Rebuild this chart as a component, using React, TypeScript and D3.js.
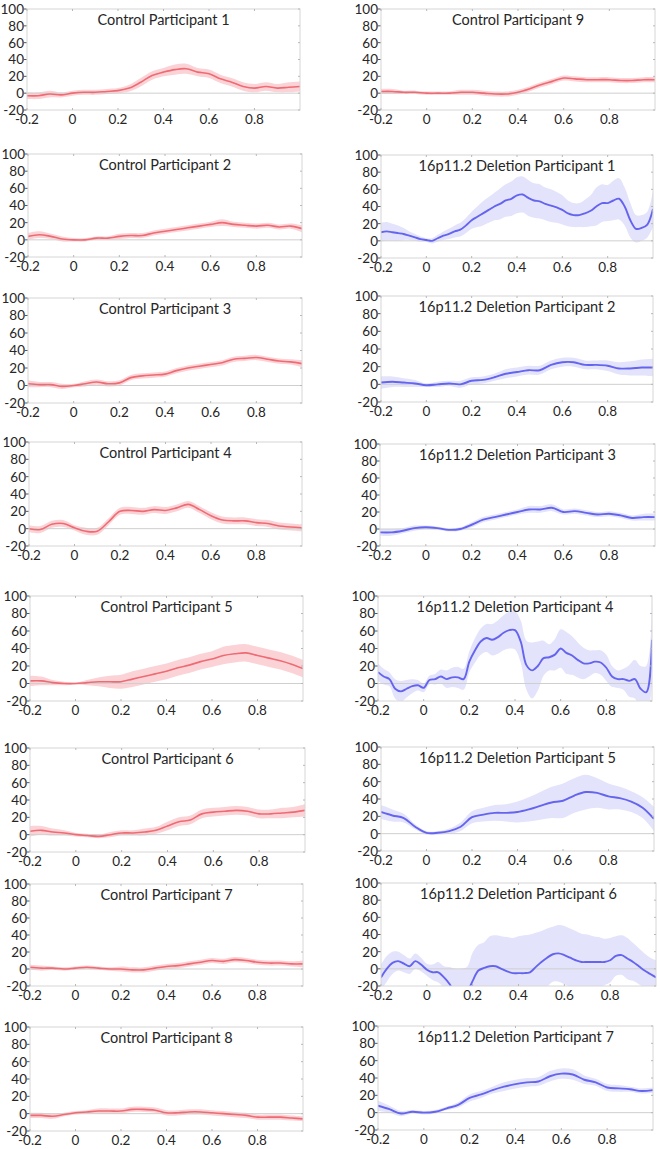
import React from 'react';
import * as d3 from 'd3';

const T_COARSE = [-0.2, -0.15, -0.1, -0.05, 0, 0.05, 0.1, 0.15, 0.2, 0.25, 0.3, 0.35, 0.4, 0.45, 0.5, 0.55, 0.6, 0.65, 0.7, 0.75, 0.8, 0.85, 0.9, 0.95, 1.0];
const T_FINE = [-0.2, -0.175, -0.15, -0.125, -0.1, -0.075, -0.05, -0.025, 0, 0.025, 0.05, 0.075, 0.1, 0.125, 0.15, 0.175, 0.2, 0.225, 0.25, 0.275, 0.3, 0.325, 0.35, 0.375, 0.4, 0.425, 0.45, 0.475, 0.5, 0.525, 0.55, 0.575, 0.6, 0.625, 0.65, 0.675, 0.7, 0.725, 0.75, 0.775, 0.8, 0.825, 0.85, 0.875, 0.9, 0.925, 0.95, 0.975, 1.0];

const X_TICKS = [-0.2, 0, 0.2, 0.4, 0.6, 0.8];
const Y_TICKS = [-20, 0, 20, 40, 60, 80, 100];

const C1_MEAN = [-3, -3, -1, -2, 0, 1, 1, 2, 3, 6, 13, 21, 25, 28, 29, 25, 23, 17, 13, 8, 6, 8, 6, 7, 8];
const C1_ERR = [4, 4, 4, 3, 3, 3, 3, 3, 3, 4, 5, 5, 5, 6, 6, 5, 5, 5, 5, 5, 5, 5, 5, 6, 6];
const C2_MEAN = [4, 6, 4, 1, 0, 0, 2, 2, 4, 5, 5, 8, 10, 12, 14, 16, 18, 20, 18, 17, 16, 17, 15, 16, 13];
const C2_ERR = [4, 4, 3, 3, 2, 2, 2, 2, 3, 3, 3, 3, 3, 3, 3, 3, 3, 4, 3, 3, 3, 3, 3, 3, 4];
const C3_MEAN = [2, 1, 1, -1, 0, 2, 4, 2, 3, 9, 11, 12, 13, 17, 20, 22, 24, 26, 30, 31, 32, 30, 28, 27, 25];
const C3_ERR = [4, 3, 3, 3, 2, 3, 3, 3, 3, 3, 3, 3, 3, 3, 3, 3, 3, 3, 3, 3, 3, 3, 3, 3, 4];
const C4_MEAN = [0, -1, 5, 6, 1, -3, -3, 8, 20, 21, 20, 22, 21, 24, 28, 22, 15, 10, 9, 9, 7, 6, 3, 2, 1];
const C4_ERR = [4, 4, 4, 4, 3, 4, 4, 4, 4, 4, 4, 4, 4, 4, 4, 4, 4, 4, 4, 4, 4, 4, 4, 4, 4];
const C5_MEAN = [3, 3, 1, 0, 0, 1, 2, 2, 2, 5, 8, 11, 14, 18, 21, 25, 28, 32, 34, 35, 32, 29, 26, 22, 17];
const C5_ERR = [6, 5, 3, 2, 1, 3, 5, 7, 8, 9, 9, 9, 9, 9, 9, 9, 9, 10, 10, 10, 10, 10, 10, 10, 10];
const C6_MEAN = [4, 5, 3, 2, 0, -1, -2, 0, 2, 2, 3, 5, 10, 15, 17, 24, 26, 27, 28, 27, 24, 24, 25, 26, 28];
const C6_ERR = [6, 5, 4, 3, 2, 2, 2, 3, 3, 3, 4, 4, 5, 5, 5, 5, 5, 5, 5, 5, 5, 5, 6, 6, 7];
const C7_MEAN = [2, 1, 1, 0, 1, 2, 1, 0, 0, -1, -1, 1, 3, 4, 6, 8, 10, 9, 11, 10, 8, 7, 7, 6, 6];
const C7_ERR = [3, 3, 2, 2, 2, 2, 2, 2, 3, 3, 3, 3, 3, 3, 3, 3, 3, 3, 3, 3, 3, 3, 3, 3, 4];
const C8_MEAN = [-2, -2, -3, -1, 1, 2, 3, 3, 3, 5, 5, 4, 1, 1, 2, 2, 1, 0, -1, -2, -4, -4, -4, -5, -6];
const C8_ERR = [3, 3, 3, 2, 2, 2, 3, 3, 3, 3, 3, 3, 3, 3, 3, 3, 3, 3, 3, 3, 3, 3, 3, 3, 3];
const C9_MEAN = [2, 2, 1, 1, 0, 0, 0, 1, 1, 0, -1, -1, 1, 5, 10, 14, 18, 17, 16, 16, 16, 15, 15, 16, 16];
const C9_ERR = [3, 3, 2, 2, 2, 2, 2, 3, 3, 3, 3, 3, 3, 3, 3, 3, 3, 3, 3, 3, 3, 3, 3, 3, 3];

const D1_MEAN = [10, 11, 10, 9, 8, 6, 4, 2, 1, 0, 3, 6, 8, 11, 13, 18, 24, 28, 32, 36, 40, 43, 47, 49, 53, 54, 50, 47, 46, 43, 41, 39, 36, 32, 30, 30, 32, 35, 40, 44, 44, 47, 49, 40, 24, 14, 15, 19, 37];
const D1_ERR = [11, 11, 10, 9, 7, 5, 4, 3, 2, 3, 4, 5, 6, 7, 8, 9, 10, 12, 14, 15, 16, 18, 19, 20, 21, 21, 21, 20, 20, 19, 19, 18, 17, 15, 14, 14, 16, 18, 22, 22, 21, 23, 24, 22, 20, 16, 15, 15, 21];
const D2_MEAN = [2, 3, 2, 1, -1, 0, 1, 0, 4, 5, 8, 12, 14, 16, 16, 22, 25, 25, 22, 22, 21, 18, 18, 19, 19];
const D2_ERR = [7, 6, 5, 4, 2, 3, 3, 4, 4, 4, 4, 5, 5, 5, 5, 5, 5, 5, 5, 5, 6, 7, 8, 9, 10];
const D3_MEAN = [-4, -4, -2, 1, 2, 1, -1, 0, 5, 11, 14, 17, 20, 23, 23, 25, 20, 21, 19, 17, 18, 16, 13, 14, 14];
const D3_ERR = [4, 4, 3, 3, 2, 2, 2, 2, 3, 3, 3, 3, 3, 4, 4, 4, 3, 3, 3, 3, 3, 3, 3, 4, 4];
const D4_MEAN = [13, 8, 5, -6, -9, -6, -3, -2, -5, 4, 5, 8, 5, 7, 7, 5, 25, 38, 48, 52, 50, 53, 58, 61, 61, 48, 21, 15, 20, 29, 30, 33, 40, 35, 32, 27, 23, 23, 25, 24, 18, 8, 5, 5, 3, 5, -6, -10, 50];
const D4_ERR = [10, 9, 8, 11, 12, 10, 8, 6, 5, 5, 6, 8, 10, 11, 12, 12, 12, 14, 15, 16, 18, 19, 20, 21, 22, 24, 28, 32, 28, 20, 15, 18, 22, 24, 22, 20, 18, 15, 13, 14, 15, 12, 10, 12, 18, 22, 26, 30, 50];
const D5_MEAN = [25, 21, 18, 8, 1, 1, 3, 8, 19, 22, 24, 24, 25, 28, 32, 36, 38, 44, 48, 47, 43, 41, 37, 30, 17];
const D5_ERR = [8, 7, 5, 3, 2, 2, 3, 5, 7, 8, 9, 10, 12, 14, 16, 18, 20, 20, 20, 17, 15, 13, 12, 12, 14];
const D6_MEAN = [-10, 0, 7, 9, 6, 3, 9, 5, -1, -4, -4, -10, -18, -30, -35, -28, -14, -2, 1, 3, 3, 0, -3, -5, -5, -5, -4, 2, 8, 13, 17, 18, 16, 13, 10, 8, 8, 8, 8, 8, 10, 15, 16, 12, 8, 3, -2, -6, -10];
const D6_ERR = [15, 15, 13, 11, 10, 9, 9, 8, 7, 9, 12, 13, 20, 30, 35, 30, 33, 30, 30, 35, 36, 38, 40, 41, 43, 44, 44, 40, 36, 34, 32, 33, 34, 34, 34, 33, 32, 30, 29, 27, 26, 23, 23, 24, 22, 21, 20, 19, 20];
const D7_MEAN = [8, 4, -1, 1, 0, 1, 5, 9, 17, 21, 26, 30, 33, 35, 36, 42, 45, 44, 38, 35, 29, 28, 27, 25, 26];
const D7_ERR = [6, 4, 3, 2, 2, 2, 2, 3, 4, 4, 4, 5, 5, 5, 5, 6, 6, 6, 5, 4, 4, 4, 3, 3, 3];

type Panel = { title: string; group: 'control' | 'deletion'; t: number[]; mean: number[]; err: number[] };

const PANELS: Panel[] = [
  { title: 'Control Participant 1', group: 'control', t: T_COARSE, mean: C1_MEAN, err: C1_ERR },
  { title: 'Control Participant 2', group: 'control', t: T_COARSE, mean: C2_MEAN, err: C2_ERR },
  { title: 'Control Participant 3', group: 'control', t: T_COARSE, mean: C3_MEAN, err: C3_ERR },
  { title: 'Control Participant 4', group: 'control', t: T_COARSE, mean: C4_MEAN, err: C4_ERR },
  { title: 'Control Participant 5', group: 'control', t: T_COARSE, mean: C5_MEAN, err: C5_ERR },
  { title: 'Control Participant 6', group: 'control', t: T_COARSE, mean: C6_MEAN, err: C6_ERR },
  { title: 'Control Participant 7', group: 'control', t: T_COARSE, mean: C7_MEAN, err: C7_ERR },
  { title: 'Control Participant 8', group: 'control', t: T_COARSE, mean: C8_MEAN, err: C8_ERR },
  { title: 'Control Participant 9', group: 'control', t: T_COARSE, mean: C9_MEAN, err: C9_ERR },
  { title: '16p11.2 Deletion Participant 1', group: 'deletion', t: T_FINE, mean: D1_MEAN, err: D1_ERR },
  { title: '16p11.2 Deletion Participant 2', group: 'deletion', t: T_COARSE, mean: D2_MEAN, err: D2_ERR },
  { title: '16p11.2 Deletion Participant 3', group: 'deletion', t: T_COARSE, mean: D3_MEAN, err: D3_ERR },
  { title: '16p11.2 Deletion Participant 4', group: 'deletion', t: T_FINE, mean: D4_MEAN, err: D4_ERR },
  { title: '16p11.2 Deletion Participant 5', group: 'deletion', t: T_COARSE, mean: D5_MEAN, err: D5_ERR },
  { title: '16p11.2 Deletion Participant 6', group: 'deletion', t: T_FINE, mean: D6_MEAN, err: D6_ERR },
  { title: '16p11.2 Deletion Participant 7', group: 'deletion', t: T_COARSE, mean: D7_MEAN, err: D7_ERR },
];

// layout: [left, right, top, bottom] of each plot box
const BOXES: number[][] = [
  [27, 300, 9, 110],
  [28, 302, 154, 257],
  [28, 302, 298, 403],
  [29, 302, 442, 546],
  [30, 303, 596, 701],
  [30, 305, 748, 852],
  [30, 303, 884, 986],
  [30, 303, 1027, 1131],
  [381, 655, 9, 110],
  [381, 653, 155, 258],
  [381, 653, 296, 402],
  [380, 655, 444, 546],
  [378, 652, 596, 701],
  [381, 654, 747, 851],
  [381, 656, 883, 986],
  [378, 653, 1026, 1130],
];

const STYLE = {
  control: { line: '#ee6b73', band: '#fbd3d7', width: 1.6 },
  deletion: { line: '#6464ee', band: '#e3e3fb', width: 1.9 },
};

const FONT = 'Lato, "Open Sans", sans-serif';
const TEXT = '#262626';

function PanelChart({ p, box, idx }: { p: Panel; box: number[]; idx: number }) {
  const [x0, x1, y0, y1] = box;
  const x = d3.scaleLinear().domain([-0.2, 1.0]).range([x0, x1]);
  const y = d3.scaleLinear().domain([-20, 100]).range([y1, y0]);
  const pts = p.t.map((t, i) => ({ t, m: p.mean[i], e: p.err[i] }));
  const area = d3
    .area<{ t: number; m: number; e: number }>()
    .x((d) => x(d.t))
    .y0((d) => y(d.m - d.e))
    .y1((d) => y(d.m + d.e))
    .curve(d3.curveCatmullRom.alpha(0.5));
  const line = d3
    .line<{ t: number; m: number; e: number }>()
    .x((d) => x(d.t))
    .y((d) => y(d.m))
    .curve(d3.curveCatmullRom.alpha(0.5));
  const st = STYLE[p.group];
  const clipId = `clip-${idx}`;
  return (
    <g>
      <defs>
        <clipPath id={clipId}>
          <rect x={x0} y={y0} width={x1 - x0} height={y1 - y0} />
        </clipPath>
      </defs>
      <rect x={x0} y={y0} width={x1 - x0} height={y1 - y0} fill="#ffffff" />
      <g clipPath={`url(#${clipId})`}>
        <path d={area(pts) || ''} fill={st.band} stroke="none" />
        <line x1={x0} x2={x1} y1={y(0)} y2={y(0)} stroke="#cfcfcf" strokeWidth={1} />
        <path d={line(pts) || ''} fill="none" stroke={st.line} strokeWidth={st.width} strokeLinejoin="round" />
      </g>
      <rect x={x0} y={y0} width={x1 - x0} height={y1 - y0} fill="none" stroke="#d6d6d6" strokeWidth={1} />
      {X_TICKS.map((t) => (
        <g key={`xt${t}`}>
          <line x1={x(t)} x2={x(t)} y1={y0} y2={y0 + 2} stroke="#b8b8b8" />
          <line x1={x(t)} x2={x(t)} y1={y1} y2={y1 - 2} stroke="#b8b8b8" />
          <text x={x(t)} y={y1 + 14} textAnchor="middle" fontSize={13.5} fontFamily={FONT} fill={TEXT}>
            {t === 0 ? '0' : String(t)}
          </text>
        </g>
      ))}
      {Y_TICKS.map((v) => (
        <g key={`yt${v}`}>
          <line x1={x0 - 3} x2={x0 - 0.5} y1={y(v)} y2={y(v)} stroke="#555555" />
          <line x1={x1} x2={x1 - 2} y1={y(v)} y2={y(v)} stroke="#b8b8b8" />
          <text x={x0 - 3} y={y(v)} dy="0.36em" textAnchor="end" fontSize={13.5} fontFamily={FONT} fill={TEXT}>
            {String(v)}
          </text>
        </g>
      ))}
      <text x={(x0 + x1) / 2} y={y0 + 16} textAnchor="middle" fontSize={14.5} fontFamily={FONT} fill={TEXT}>
        {p.title}
      </text>
    </g>
  );
}

export default function App() {
  return (
    <svg
      width={660}
      height={1149}
      viewBox="0 0 660 1149"
      style={{ position: 'absolute', left: 0, top: 0, background: '#ffffff' }}
    >
      <rect x={0} y={0} width={660} height={1149} fill="#ffffff" />
      {PANELS.map((p, i) => (
        <PanelChart key={p.title} p={p} box={BOXES[i]} idx={i} />
      ))}
    </svg>
  );
}
